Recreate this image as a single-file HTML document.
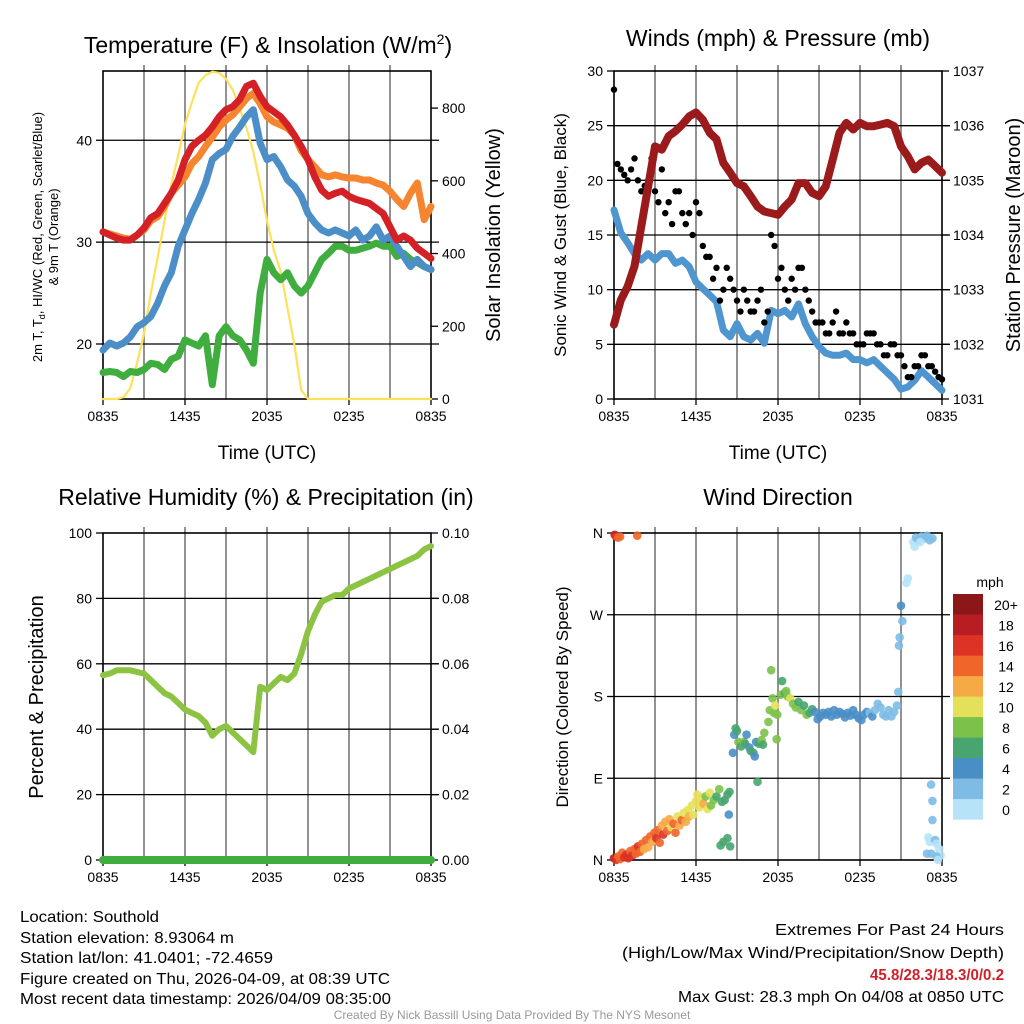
<!DOCTYPE html>
<html><head><meta charset="utf-8"><style>
html,body{margin:0;padding:0;background:#fff;}
svg{display:block;font-family:"Liberation Sans",Arial,sans-serif;}
</style></head><body>
<svg id="fig" width="1024" height="1024" viewBox="0 0 1024 1024" xmlns="http://www.w3.org/2000/svg">
<rect width="1024" height="1024" fill="#fff"/>
<g id="layer"></g>
<text x="268" y="53" font-size="23" text-anchor="middle">Temperature (F) &amp; Insolation (W/m<tspan font-size="14" dy="-9">2</tspan><tspan dy="9">)</tspan></text>
<text x="778" y="46" font-size="23" text-anchor="middle">Winds (mph) &amp; Pressure (mb)</text>
<text x="266" y="505" font-size="23" text-anchor="middle">Relative Humidity (%) &amp; Precipitation (in)</text>
<text x="778" y="505" font-size="23" text-anchor="middle">Wind Direction</text>
<text transform="translate(42,237) rotate(-90)" font-size="13" text-anchor="middle">2m T, T<tspan font-size="9" dy="3">d</tspan><tspan dy="-3">, HI/WC (Red, Green, Scarlet/Blue)</tspan></text>
<text transform="translate(58,237) rotate(-90)" font-size="13" text-anchor="middle">&amp; 9m T (Orange)</text>
<text transform="translate(500,235) rotate(-90)" font-size="20" text-anchor="middle">Solar Insolation (Yellow)</text>
<text x="267" y="459" font-size="19" text-anchor="middle">Time (UTC)</text>
<text x="778" y="459" font-size="19" text-anchor="middle">Time (UTC)</text>
<text transform="translate(566,235) rotate(-90)" font-size="17" text-anchor="middle">Sonic Wind &amp; Gust (Blue, Black)</text>
<text transform="translate(1020,235) rotate(-90)" font-size="20" text-anchor="middle">Station Pressure (Maroon)</text>
<text transform="translate(43,697) rotate(-90)" font-size="20" text-anchor="middle">Percent &amp; Precipitation</text>
<text transform="translate(568,697) rotate(-90)" font-size="17" text-anchor="middle">Direction (Colored By Speed)</text>
<text x="990" y="587" font-size="14" text-anchor="middle">mph</text>
<g font-size="16">
<text x="20" y="922" textLength="139" lengthAdjust="spacingAndGlyphs">Location: Southold</text>
<text x="20" y="943" textLength="214" lengthAdjust="spacingAndGlyphs">Station elevation: 8.93064 m</text>
<text x="20" y="963" textLength="253" lengthAdjust="spacingAndGlyphs">Station lat/lon: 41.0401; -72.4659</text>
<text x="20" y="984" textLength="370" lengthAdjust="spacingAndGlyphs">Figure created on Thu, 2026-04-09, at 08:39 UTC</text>
<text x="20" y="1004" textLength="371" lengthAdjust="spacingAndGlyphs">Most recent data timestamp: 2026/04/09 08:35:00</text>
</g>
<g font-size="16" text-anchor="end">
<text x="1004" y="935" textLength="229" lengthAdjust="spacingAndGlyphs">Extremes For Past 24 Hours</text>
<text x="1004" y="958" textLength="382" lengthAdjust="spacingAndGlyphs">(High/Low/Max Wind/Precipitation/Snow Depth)</text>
<text x="1004" y="980" fill="#d0202a" font-weight="bold" textLength="134" lengthAdjust="spacingAndGlyphs">45.8/28.3/18.3/0/0.2</text>
<text x="1004" y="1002" textLength="326" lengthAdjust="spacingAndGlyphs">Max Gust: 28.3 mph On 04/08 at 0850 UTC</text>
</g>
<text x="512" y="1019" font-size="12" fill="#999" text-anchor="middle">Created By Nick Bassill Using Data Provided By The NYS Mesonet</text>
</svg>
<script>
// ---- data (half-hourly, starting 0835 UTC) ----
const timeTicks = ["0835","1435","2035","0235","0835"];
const tempRed = [31.0,30.7,30.4,30.2,30.2,30.7,31.4,32.4,32.8,33.8,34.8,36.1,38.1,39.4,40.0,40.5,41.3,42.3,43.0,43.3,44.0,45.3,45.6,44.3,43.3,42.8,42.3,41.5,40.5,39.4,38.1,36.4,35.1,34.5,34.8,35.0,34.5,34.2,34.0,33.8,33.3,32.8,31.5,30.2,30.6,30.2,29.4,28.9,28.4];
const tempOrange = [31.0,30.8,30.6,30.4,30.3,30.7,31.2,32.1,32.5,33.5,34.8,35.6,36.4,37.7,38.4,39.4,40.3,41.3,42.0,42.5,43.3,44.1,44.6,43.6,42.3,41.8,41.5,41.2,40.5,39.0,38.1,37.4,36.6,36.4,36.6,36.4,36.3,36.3,36.1,36.1,35.8,35.6,35.0,34.2,33.5,34.8,35.8,32.2,33.5];
const tempBlue = [19.4,20.1,19.8,20.1,20.7,21.7,22.1,22.7,24.0,25.7,27.0,29.6,31.2,32.8,34.2,35.8,38.1,38.7,39.1,40.4,41.3,42.3,43.0,39.7,38.1,38.4,37.4,36.1,35.5,34.5,32.8,31.9,31.2,30.9,31.2,30.9,30.6,31.2,30.2,30.6,31.5,30.2,30.6,29.6,28.6,27.6,28.3,27.6,27.3];
const tempGreen = [17.2,17.3,17.2,16.8,17.3,17.2,17.5,18.1,18.0,17.5,18.5,18.8,20.4,20.1,19.8,20.8,16.0,20.8,21.7,20.8,20.4,19.4,18.1,25.0,28.3,27.0,26.3,27.0,25.7,25.0,25.7,27.0,28.3,28.9,29.6,29.6,29.2,29.2,29.4,29.6,29.9,29.6,29.6,28.6,28.9,28.3,28.0,27.6,27.3];
const solar = [0,0,0,5,30,100,181,290,390,490,590,670,755,815,870,890,900,897,880,850,800,745,680,590,490,410,350,250,150,25,0,0,0,0,0,0,0,0,0,0,0,0,0,0,0,0,0,0,0];
const pressure = [1032.36,1032.81,1033.06,1033.43,1034.16,1034.89,1035.62,1035.56,1035.81,1035.90,1036.02,1036.17,1036.24,1036.11,1035.87,1035.75,1035.32,1035.14,1034.95,1034.89,1034.71,1034.52,1034.43,1034.40,1034.37,1034.52,1034.65,1034.95,1034.95,1034.77,1034.71,1034.89,1035.38,1035.87,1036.05,1035.93,1036.05,1035.99,1035.99,1036.02,1036.05,1035.99,1035.62,1035.44,1035.20,1035.32,1035.38,1035.26,1035.14];
const windSpeed = [17.3,15.2,14.3,13.3,12.7,13.3,12.7,13.3,13.3,12.4,12.7,12.1,10.7,10.1,9.5,8.9,6.3,5.7,6.9,5.7,5.4,6.0,5.1,8.1,7.8,8.1,7.5,8.7,6.9,5.7,4.8,4.2,4.0,4.0,4.2,3.6,3.6,3.3,3.6,3.0,2.4,1.8,0.9,1.1,1.7,2.6,2.0,1.4,0.8];
const gustA = [28.3,21,20,22,19,20,19,21,18,19,17,17,18,14,13,12,10,11,9,10,8,9,7,15,11,10,11,12,10,8,7,6,7,6,7,6,5,6,6,5,4,5,4,2,3,4,3,2.5,1.8];
const gustB = [21.5,20.5,21,20,19.5,22,18,17,16,19,16,15,17,13,11,9,12,10,8,9,8,10,8,14,12,9,10,12,9,7,7,6,8,6,6,5,5,6,5,4,5,4,3,2,3,4,3,2];
const humidity = [56.5,57,58,58,58,57.5,57,55,53,51,50,48,46,45,44,42,38,40,41,39,37,35,33,53,52,54,56,55,57,63,70,75,79,80,81,81,83,84,85,86,87,88,89,90,91,92,93,95,96];
const precip = [0,0,0,0,0,0,0,0,0,0,0,0,0,0,0,0,0,0,0,0,0,0,0,0,0,0,0,0,0,0,0,0,0,0,0,0,0,0,0,0,0,0,0,0,0,0,0,0,0];
const dirTime = [0.05,0.15,0.3,0.45,1.7,0,0.15,0.3,0.45,0.6,0.75,0.9,1.05,1.2,1.35,1.5,1.6,1.75,1.9,2.05,2.2,2.35,2.5,2.65,2.8,2.95,3.1,3.2,3.35,3.5,3.6,3.75,3.9,4.05,4.2,4.35,4.5,4.65,4.8,4.95,5.1,5.25,5.4,5.5,5.7,5.8,6.0,6.1,6.25,6.4,6.55,6.7,6.85,7.0,7.1,7.3,7.5,7.7,7.9,8.1,8.3,8.45,8.4,7.8,8.0,8.3,8.5,8.7,8.8,8.9,9.0,9.1,9.3,9.5,9.6,9.7,9.9,10.0,10.2,10.3,10.4,10.6,10.8,10.9,11.0,10.5,11.3,11.4,11.5,11.6,11.7,11.8,11.9,11.95,12.2,12.3,12.5,12.6,12.7,12.9,13.1,13.3,13.5,13.7,13.9,14.1,14.3,14.5,14.7,14.9,15.1,15.3,15.5,15.7,15.9,16.1,16.3,16.5,16.7,16.9,17.1,17.3,17.5,17.7,17.9,18.1,18.3,18.5,18.7,18.9,19.1,19.3,19.5,19.7,19.9,20.1,20.3,20.5,20.7,20.8,20.85,20.9,21.0,21.1,21.4,21.5,21.9,22.1,22.3,22.5,22.7,22.9,23.1,23.3,22.0,22.4,23.2,23.3,23.3,23.0,23.1,23.5,23.6,23.8,23.9,22.9,23.2,23.6,23.7];
const dirDeg = [358,356,355,356,357,2,0,4,1,8,3,6,2,10,5,12,7,15,9,18,12,22,14,26,20,30,24,33,19,38,28,42,32,45,36,40,30,48,38,44,52,42,55,48,60,50,65,72,58,68,62,70,56,74,60,66,70,78,64,66,72,75,50,16,20,24,15,118,138,145,142,130,125,130,128,138,124,120,118,114,130,128,132,127,140,86,152,165,209,178,162,170,133,160,182,197,184,186,180,178,172,168,174,165,170,160,162,166,163,155,158,162,160,163,158,165,160,163,161,157,162,159,165,160,156,154,160,163,162,158,165,172,168,160,158,165,158,163,170,185,236,245,280,263,305,310,350,355,352,356,354,357,352,354,345,350,83,65,44,25,20,22,18,12,5,7,7,4,0];
const dirSpeed = [18,16,15,14,14,18,16,15,14,15,17,16,17,15,16,14,15,16,14,15,13,14,13,15,12,14,16,15,14,13,16,12,14,13,11,14,15,11,12,15,10,13,10,12,11,11,10,10,10,11,12,9,10,10,8,8,7,8,7,6,6,6,4,6,6,6,7,4,4,6,6,8,6,8,7,4,4,6,6,4,4,6,8,6,8,6,8,8,8,8,8,10,8,9,8,6,6,9,8,10,8,8,6,8,6,8,6,6,4,4,4,4,4,4,4,4,4,4,4,4,4,4,4,4,4,4,4,4,2,4,2,2,2,2,2,2,2,2,3,3,2,3,4,3,1,1,1,3,3,2,3,3,2,3,1,1,3,3,3,1,1,2,1,1,1,3,3,2,1];
const speedColors = ["#b6e3f8","#7ebce5","#4a8ec6","#48a56f","#7cc24a","#e5e05a","#f6aa45","#f0652a","#dd3326","#b91d24","#8b1719"];
const speedLabels = ["0","2","4","6","8","10","12","14","16","18","20+"];

const NS="http://www.w3.org/2000/svg";
const layer=document.getElementById('layer');
function mk(tag, attrs, parent){const e=document.createElementNS(NS,tag);for(const k in attrs)e.setAttribute(k,attrs[k]);(parent||layer).appendChild(e);return e;}
function txt(x,y,s,size,anchor,parent){const e=mk('text',{x:x,y:y,'font-size':size,'text-anchor':anchor},parent);e.textContent=s;return e;}

const P1={x0:103,x1:431,y0:71,y1:399,lo:14.6,hi:46.8,rlo:0,rhi:902};
const P2={x0:614,x1:942,y0:71,y1:399,lo:0,hi:30,rlo:1031,rhi:1037};
const P3={x0:103,x1:431,y0:533,y1:860,lo:0,hi:100,rlo:0,rhi:0.1};
const P4={x0:614,x1:942,y0:533,y1:860,lo:0,hi:360};
function xs(p,h){return p.x0+h/24*(p.x1-p.x0);}
function ys(p,v){return p.y1-(v-p.lo)/(p.hi-p.lo)*(p.y1-p.y0);}
function yr(p,v){return p.y1-(v-p.rlo)/(p.rhi-p.rlo)*(p.y1-p.y0);}

function frame(p,name,hTicks){
  const g=mk('g',{});
  
  
  for(let h=3;h<24;h+=3){const l=mk('line',{x1:xs(p,h),x2:xs(p,h),y1:p.y0-6,y2:p.y1,stroke:'#777','stroke-width':1.6},g);
    
    }
  hTicks.forEach(v=>{const l=mk('line',{x1:p.x0,x2:p.x1+8,y1:ys(p,v),y2:ys(p,v),stroke:'#000','stroke-width':1.3},g);
    
    });
  mk('rect',{x:p.x0,y:p.y0,width:p.x1-p.x0,height:p.y1-p.y0,fill:'none',stroke:'#000','stroke-width':1.6},g);
  for(let i=0;i<5;i++){const h=i*6;
    mk('line',{x1:xs(p,h),x2:xs(p,h),y1:p.y1,y2:p.y1+6,stroke:'#000','stroke-width':1.3},g);
    const t=txt(xs(p,h),p.y1+22,timeTicks[i],14,'middle',g);
    
    }
  return g;
}
function leftTicks(p,vals,labels,g){vals.forEach((v,i)=>{mk('line',{x1:p.x0-7,x2:p.x0,y1:ys(p,v),y2:ys(p,v),stroke:'#000','stroke-width':1.3},g);
  const t=txt(p.x0-11,ys(p,v)+5,labels[i],14,'end',g);
  
  });}
function rightTicks(p,vals,labels,g){vals.forEach((v,i)=>{mk('line',{x1:p.x1,x2:p.x1+7,y1:yr(p,v),y2:yr(p,v),stroke:'#000','stroke-width':1.3},g);
  const t=txt(p.x1+11,yr(p,v)+5,labels[i],14,'start',g);
  
  });}
function series(p,arr,scale,color,w,name){
  const d=arr.map((v,i)=>(i?'L':'M')+xs(p,i*0.5).toFixed(1)+','+scale(p,v).toFixed(1)).join(' ');
  const e=mk('path',{d:d,fill:'none',stroke:color,'stroke-width':w,'stroke-linejoin':'round','stroke-linecap':'round'});
  
  
  return e;
}

// Panel 1
let g=frame(P1,'temperature',[20,30,40]);
leftTicks(P1,[20,30,40],['20','30','40'],g);
rightTicks(P1,[0,200,400,600,800],['0','200','400','600','800'],g);
series(P1,solar,yr,'#fde15a',2.2,'insolation-line');
series(P1,tempGreen,ys,'#3fae3f',7,'dewpoint-line');
series(P1,tempBlue,ys,'#4b8ec8',7,'windchill-line');
series(P1,tempOrange,ys,'#f5852e',7,'temp-9m-line');
series(P1,tempRed,ys,'#d42125',7,'temp-2m-line');

// Panel 2
g=frame(P2,'wind',[5,10,15,20,25]);
leftTicks(P2,[0,5,10,15,20,25,30],['0','5','10','15','20','25','30'],g);
rightTicks(P2,[1031,1032,1033,1034,1035,1036,1037],['1031','1032','1033','1034','1035','1036','1037'],g);
series(P2,windSpeed,ys,'#4f95d0',7,'wind-speed-line');
gustA.forEach((v,i)=>{const c=mk('circle',{cx:xs(P2,i*0.5),cy:ys(P2,v),r:3.2,fill:'#000'});
  
  });
gustB.forEach((v,i)=>{const c=mk('circle',{cx:xs(P2,i*0.5+0.25),cy:ys(P2,v),r:3.2,fill:'#000'});
  
  });
series(P2,pressure,yr,'#9b1a1c',8,'pressure-line');

// Panel 3
g=frame(P3,'humidity',[20,40,60,80]);
leftTicks(P3,[0,20,40,60,80,100],['0','20','40','60','80','100'],g);
rightTicks(P3,[0,0.02,0.04,0.06,0.08,0.1],['0.00','0.02','0.04','0.06','0.08','0.10'],g);
series(P3,humidity,ys,'#8cc343',6,'humidity-line');
series(P3,precip,yr,'#3fae3f',8,'precipitation-line');

// Panel 4
g=frame(P4,'direction',[90,180,270]);
leftTicks(P4,[0,90,180,270,360],['N','E','S','W','N'],g);
dirTime.forEach((h,i)=>{const b=Math.min(10,Math.floor(dirSpeed[i]/2));
  const c=mk('circle',{cx:xs(P4,h),cy:ys(P4,dirDeg[i]),r:4.3,fill:speedColors[b],'fill-opacity':0.9});
  
  });
// colorbar
const cb=mk('g',{});


speedColors.forEach((c,i)=>{const k=10-i;const y=594+k*20.5;
  const r=mk('rect',{x:953,y:y,width:30,height:20.6,fill:c},cb);
  
  
  const t=txt(1006,y+16,speedLabels[i],14,'middle',cb);
  
  });
</script>
</body></html>
